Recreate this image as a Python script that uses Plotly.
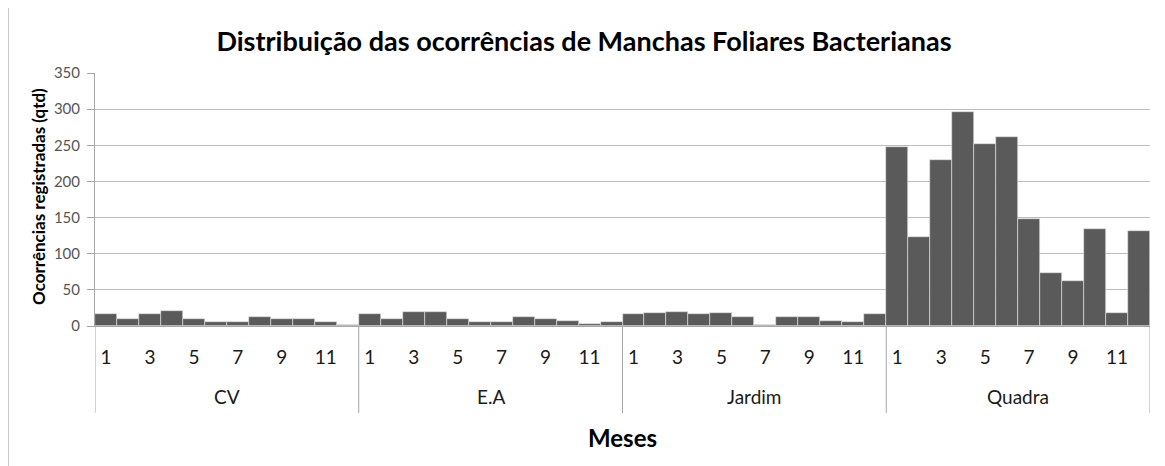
import plotly.graph_objects as go

groups = ["CV", "E.A", "Jardim", "Quadra"]
months = [str(m) for m in range(1, 13)]
cv = [17, 9, 17, 21, 9, 6, 6, 13, 9, 10, 6, 2]
ea = [16, 10, 20, 20, 10, 6, 6, 13, 9, 7, 3, 5]
jardim = [17, 18, 20, 16, 18, 12, 2, 13, 12, 7, 6, 16]
quadra = [247, 123, 229, 296, 252, 261, 148, 74, 62, 134, 18, 132]
series = [cv, ea, jardim, quadra]

values = [v for s in series for v in s]
xpos = list(range(len(values)))
hover = [f"{g} - {m}" for g in groups for m in months]

tickvals = [i for i in xpos if i % 2 == 0]
ticktext = [months[i % 12] for i in tickvals]

# page body offset of 8px
OFF = 8
W, H = 1165 - OFF, 466 - OFF
PL, PR, PT, PB = 95, 1150, 73, 326  # plot area in screen px
ml, mr, mt, mb = PL - OFF, W - (PR - OFF), PT - OFF, H - (PB - OFF)
pw, ph = PR - PL, PB - PT

def py(Y):
    return (PB - Y) / ph

def px(X):
    return (X - PL) / pw

font = "Lato, 'Open Sans', sans-serif"

fig = go.Figure(go.Bar(
    x=xpos, y=values, hovertext=hover,
    marker=dict(color="#5a5a5a", line=dict(color="#e6e6e6", width=0.6)),
    width=1.0,
))

shapes = []
for k in range(len(groups) + 1):
    xs = k * 12 - 0.5
    shapes.append(dict(type="line", xref="x", yref="paper", x0=xs, x1=xs,
                       y0=0, y1=py(413), line=dict(color="#a6a6a6", width=1)))
shapes.append(dict(type="line", xref="paper", yref="paper", x0=px(8.5), x1=px(8.5),
                   y0=py(0), y1=py(466), line=dict(color="#c8c8c8", width=1)))

annotations = []
for k, g in enumerate(groups):
    annotations.append(dict(x=k * 12 + 5.5, y=py(396), xref="x", yref="paper",
                            yanchor="middle", text=g, showarrow=False,
                            font=dict(family=font, size=19, color="#1a1a1a")))
annotations.append(dict(x=px(622), y=py(437), xref="paper", yref="paper",
                        yanchor="middle", xanchor="center",
                        text="<b>Meses</b>", showarrow=False,
                        font=dict(family=font, size=24, color="#000000")))
annotations.append(dict(x=px(38), y=py(197), xref="paper", yref="paper",
                        yanchor="middle", xanchor="center", textangle=-90,
                        text="<b>Ocorrências registradas (qtd)</b>", showarrow=False,
                        font=dict(family=font, size=17, color="#000000")))

fig.update_layout(
    width=W, height=H,
    margin=dict(l=ml, r=mr, t=mt, b=mb),
    paper_bgcolor="white", plot_bgcolor="white",
    bargap=0,
    showlegend=False,
    title=dict(text="<b>Distribuição das ocorrências de Manchas Foliares Bacterianas</b>",
               x=(584 - OFF) / W, xanchor="center", y=1 - (42 - OFF) / H, yanchor="middle",
               font=dict(family=font, size=27, color="#000000")),
    xaxis=dict(range=[-0.5, 47.5], tickvals=tickvals, ticktext=ticktext,
               showgrid=False, zeroline=False, showline=True, linecolor="#a6a6a6",
               ticks="", ticklabelstandoff=14,
               tickfont=dict(family=font, size=19, color="#1a1a1a")),
    yaxis=dict(range=[0, 350], dtick=50, showgrid=True, gridcolor="#bdbdbd",
               gridwidth=1, zeroline=False, showline=True, linecolor="#a6a6a6",
               ticks="outside", ticklen=7, tickcolor="#a6a6a6",
               ticklabelstandoff=4,
               tickfont=dict(family=font, size=15, color="#555555")),
    shapes=shapes,
    annotations=annotations,
)

fig.write_html("out.html")
